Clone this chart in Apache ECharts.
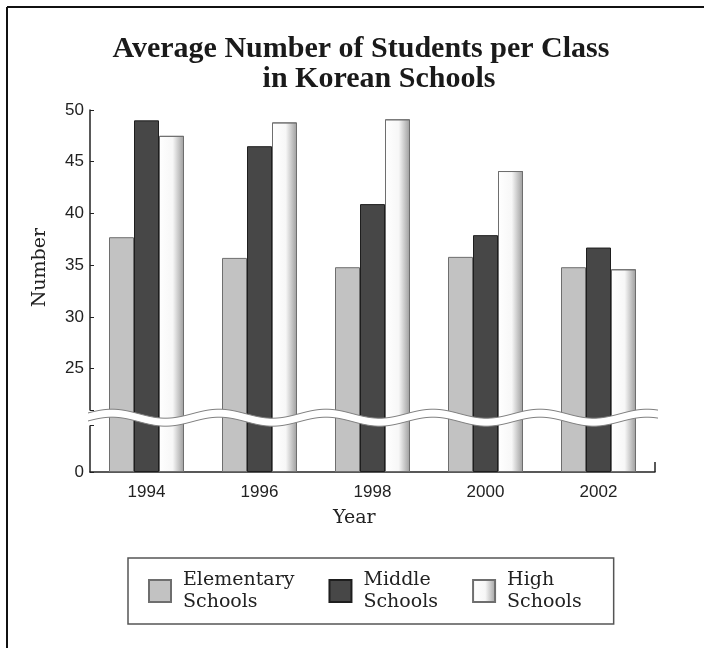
<!DOCTYPE html>
<html>
<head>
<meta charset="utf-8">
<script src="https://cdn.jsdelivr.net/npm/echarts@6/dist/echarts.min.js"></script>
<style>
	html, body { margin: 0; padding: 0; background: #fff; }
	#chartBox { width: 704px; height: 648px; }
</style>
</head>
<body>
<div id="chartBox"></div>
<script>
// 数据
const years = ['1994', '1996', '1998', '2000', '2002'];
const seriesNames = ['Elementary Schools', 'Middle Schools', 'High Schools'];
const elementary = [37.7, 35.7, 34.8, 35.8, 34.8];
const middle = [49.0, 46.5, 40.9, 37.9, 36.7];
const high = [47.5, 48.8, 49.1, 44.1, 34.6];
// y轴: 0, 然后断开, 25 ~ 50
const yMin = 0;
const yMax = 50;
const yStep = 5;
const breakStart = 4.5;
const breakEnd = 21;

const gridLeft = 90;
const gridRight = 49;
const gridTop = 110;
const gridBottom = 176;

let myChart = echarts.init(document.getElementById('chartBox'));

const serif = "'DejaVu Serif', serif";
const sans = "'Liberation Sans', Arial, sans-serif";

myChart.setOption({
	animation: false,
	backgroundColor: '#fff',
	title: [
		{
			text: 'Average Number of Students per Class',
			left: 356,
			top: 29,
			textAlign: 'center',
			textStyle: { fontFamily: "'Liberation Serif', serif", fontWeight: 'bold', fontSize: 30, color: '#1a1a1a' }
		},
		{
			text: 'in Korean Schools',
			left: 374,
			top: 59,
			textAlign: 'center',
			textStyle: { fontFamily: "'Liberation Serif', serif", fontWeight: 'bold', fontSize: 30, color: '#1a1a1a' }
		}
	],
	legend: {
		left: 128,
		top: 558,
		padding: [11, 32, 11, 20],
		itemGap: 34,
		itemWidth: 22,
		itemHeight: 22,
		icon: 'rect',
		borderColor: '#555',
		borderWidth: 1.5,
		formatter: name => name.replace(' ', '\n'),
		textStyle: { fontFamily: serif, fontSize: 19, lineHeight: 22, color: '#222', padding: [0, 0, 0, 7] },
		data: seriesNames
	},
	grid: { left: gridLeft, right: gridRight, top: gridTop, bottom: gridBottom },
	xAxis: {
		type: 'category',
		data: years,
		axisLine: { lineStyle: { color: '#222', width: 1.5 } },
		axisTick: { show: false },
		axisLabel: { fontFamily: sans, fontSize: 17, color: '#222', margin: 12 }
	},
	yAxis: {
		type: 'value',
		min: yMin,
		max: yMax,
		interval: yStep,
		breaks: [{ start: breakStart, end: breakEnd, gap: 1.5 }],
		breakArea: { show: false, itemStyle: { opacity: 0 } },
		splitLine: { show: false },
		axisLine: { show: true, lineStyle: { color: '#222', width: 1.5 } },
		axisTick: { show: true, inside: true, length: 4, lineStyle: { color: '#222' } },
		axisLabel: {
			fontFamily: sans, fontSize: 17, color: '#222', margin: 6,
			// 断点处的数值不显示
			formatter: v => (v % yStep === 0 ? String(v) : '')
		}
	},
	series: [
		{
			name: seriesNames[0],
			type: 'bar',
			data: elementary,
			barWidth: 25,
			barGap: '0%',
			itemStyle: { color: '#c2c2c2', borderColor: '#6e6e6e', borderWidth: 1 }
		},
		{
			name: seriesNames[1],
			type: 'bar',
			data: middle,
			barWidth: 25,
			barGap: '0%',
			itemStyle: { color: '#474747', borderColor: '#1e1e1e', borderWidth: 1 }
		},
		{
			name: seriesNames[2],
			type: 'bar',
			data: high,
			barWidth: 25,
			barGap: '0%',
			itemStyle: {
				color: new echarts.graphic.LinearGradient(0, 0, 1, 0, [
					{ offset: 0, color: '#ffffff' },
					{ offset: 0.55, color: '#f7f7f7' },
					{ offset: 1, color: '#9c9c9c' }
				]),
				borderColor: '#6e6e6e',
				borderWidth: 1
			}
		}
	]
});

// 断轴波浪线
function drawDecor() {
	let yTop = myChart.convertToPixel({ yAxisIndex: 0 }, breakEnd);
	let yBot = myChart.convertToPixel({ yAxisIndex: 0 }, breakStart);
	let mid = (yTop + yBot) / 2;
	let x0 = gridLeft - 2;
	let x1 = 704 - gridRight + 3;
	let xAxisY = 648 - gridBottom;
	let upper = [], lower = [];
	for (let x = x0; x <= x1; x += 2) {
		let dy = -4.5 * Math.cos(2 * Math.PI * (x - 112) / 107);
		upper.push([x, mid - 4 + dy]);
		lower.push([x, mid + 4 + dy]);
	}
	let band = upper.concat(lower.slice().reverse());
	myChart.setOption({
		graphic: [
			{ type: 'polygon', z: 100, shape: { points: band }, style: { fill: '#fff' } },
			{ type: 'polyline', z: 101, shape: { points: upper }, style: { stroke: '#808080', lineWidth: 1, fill: null } },
			{ type: 'polyline', z: 101, shape: { points: lower }, style: { stroke: '#808080', lineWidth: 1, fill: null } },
			{ type: 'line', z: 101, shape: { x1: x1 - 3, y1: xAxisY - 10, x2: x1 - 3, y2: xAxisY }, style: { stroke: '#222', lineWidth: 1.5 } },
			{ type: 'text', z: 101, left: 31, top: 228, rotation: Math.PI / 2, style: { text: 'Number', fontFamily: serif, fontSize: 19, fill: '#222' } },
			{ type: 'text', z: 101, left: 333, top: 509, style: { text: 'Year', fontFamily: serif, fontSize: 19, fill: '#222' } },
			{ type: 'line', z: 101, shape: { x1: 7, y1: 7, x2: 704, y2: 7 }, style: { stroke: '#111', lineWidth: 2 } },
			{ type: 'line', z: 101, shape: { x1: 7, y1: 7, x2: 7, y2: 648 }, style: { stroke: '#111', lineWidth: 2 } }
		]
	});
}
drawDecor();
</script>
</body>
</html>
